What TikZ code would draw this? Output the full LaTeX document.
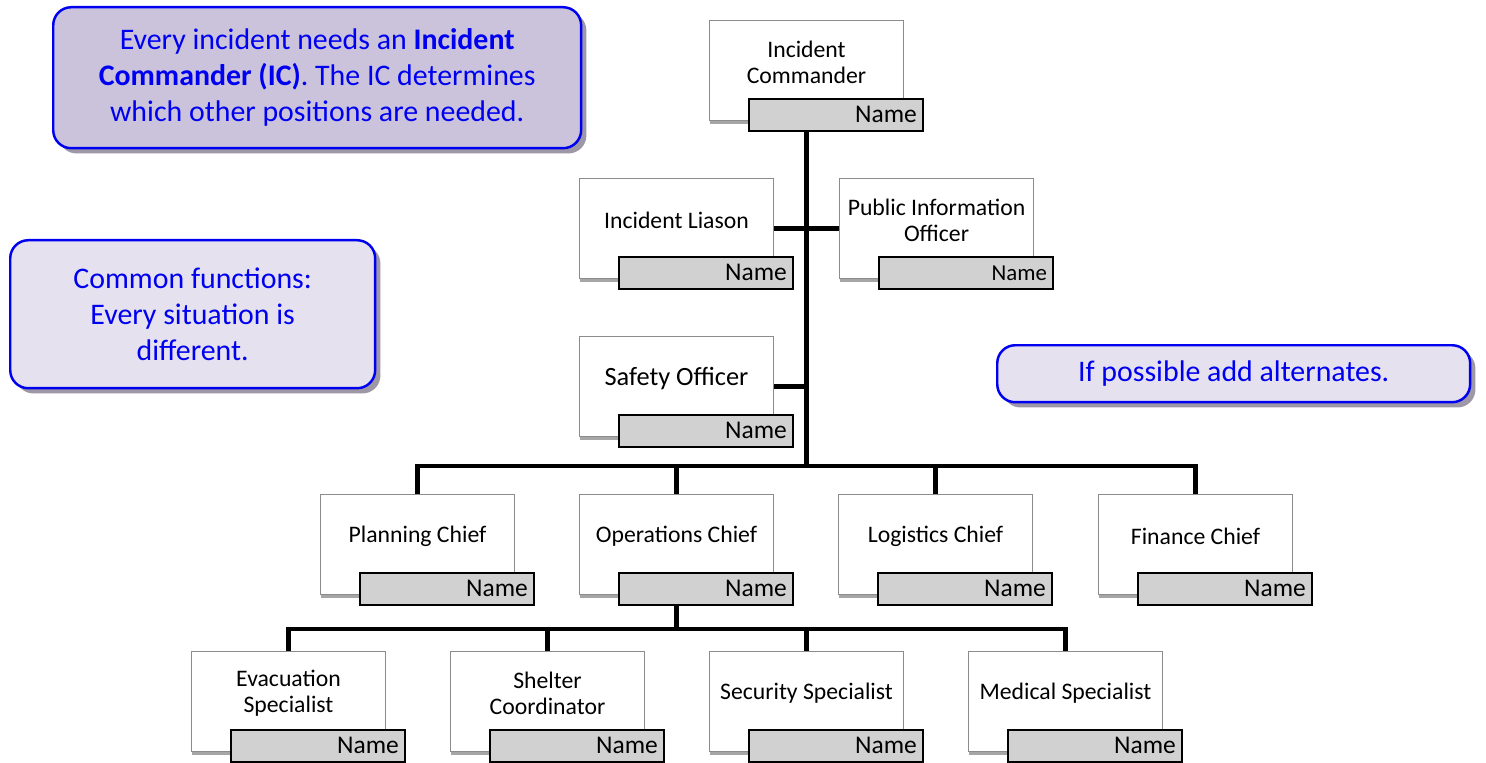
\documentclass[tikz,border=0pt]{standalone}
\usepackage{fontspec}
\setmainfont{Carlito}
\usetikzlibrary{positioning,shadows,backgrounds}

\definecolor{notedark}{HTML}{CBC3DC}
\definecolor{notelight}{HTML}{E6E1EE}
\definecolor{noteshadow}{HTML}{9D97A6}
\definecolor{noteblue}{HTML}{0000F0}

\begin{document}
\begin{tikzpicture}[
		x=0.02cm, y=-0.02cm,
		posbox/.style={
				draw=black!45,
				fill=white,
				line width=0.6pt,
				anchor=north west,
				inner sep=0pt,
				minimum width=3.88cm,
				minimum height=2cm,
				drop shadow={shadow xshift=0.5pt, shadow yshift=-2pt, opacity=0.35, fill=black}
			},
		postext/.style={
				align=center,
				inner sep=0pt
			},
		nametab/.style={
				draw=black,
				line width=1pt,
				fill=black!18,
				anchor=north west,
				inner xsep=0.12cm,
				inner ysep=0pt,
				text width=3.24cm,
				minimum height=0.64cm,
				align=right
			},
		note/.style={
				draw=noteblue,
				line width=1.4pt,
				rounded corners=0.36cm,
				anchor=north west,
				inner sep=0pt,
				align=center,
				text=noteblue,
				font=\fontsize{17}{20.5}\selectfont,
				drop shadow={shadow xshift=3pt, shadow yshift=-3pt, opacity=1, fill=noteshadow}
			},
		link/.style={
				line width=2.8pt,
				black
			}
	]
	\useasboundingbox (0,0) rectangle (1486,763);

	% callouts
	\node[note, fill=notedark, minimum width=10.56cm, minimum height=2.82cm] (icnote) at (52,6)
	{Every incident needs an \textbf{Incident}\\ \textbf{Commander (IC)}. The IC determines\\ which other positions are needed.};
	\node[note, fill=notelight, minimum width=7.3cm, minimum height=2.96cm] (funcnote) at (9,239)
	{Common functions:\\ Every situation is\\ different.};
	\node[note, fill=notelight, minimum width=9.46cm, minimum height=1.14cm] (altnote) at (996,344)
	{If possible add alternates.};

	% positions
	\foreach \nm/\x/\y/\txt/\tfs/\nfs in {
			ic/709/20/{Incident\\Commander}/13.5/14.5,
			liaison/579/178/{Incident Liason}/13.5/14.5,
			pio/839/178/{Public Information\\Officer}/13.5/13,
			safety/579/336/{Safety Officer}/15/14.5,
			plan/320/494/{Planning Chief}/13.5/14.5,
			ops/579/494/{Operations Chief}/13.5/14.5,
			logi/838/494/{Logistics Chief}/13.5/14.5,
			fin/1098/494/{Finance Chief}/13.5/14.5,
			evac/191/651/{Evacuation\\Specialist}/13.5/14.5,
			shel/450/651/{Shelter\\Coordinator}/13.5/14.5,
			secu/709/651/{Security Specialist}/13.5/14.5,
			medi/968/651/{Medical Specialist}/13.5/14.5
		}{
		\node[posbox] (\nm) at (\x,\y) {};
		\node[postext, font=\fontsize{\tfs}{14.8}\selectfont] (\nm-t) at ([shift={(0,-8)}]\nm.center) {\txt};
		\node[nametab, font=\fontsize{\nfs}{16}\selectfont] (\nm-n) at ([shift={(39,78)}]\nm.north west) {Name};
	}

	% connectors
	\begin{scope}[on background layer]
		\coordinate (hub) at (ic.south |- 0,466);
		\coordinate (opsdrop) at (ops.south |- 0,629);
		\draw[link] (ic.south) -- (hub);
		\draw[link] (liaison.east) -- (pio.west);
		\draw[link] (safety.east) -- (safety.east -| hub);
		\draw[link] (plan.north) |- (hub) -| (fin.north);
		\draw[link] (ops.north) -- (ops.north |- hub);
		\draw[link] (logi.north) -- (logi.north |- hub);
		\draw[link] (ops.south) -- (opsdrop);
		\draw[link] (evac.north) |- (opsdrop) -| (medi.north);
		\draw[link] (shel.north) -- (shel.north |- opsdrop);
		\draw[link] (secu.north) -- (secu.north |- opsdrop);
	\end{scope}
\end{tikzpicture}
\end{document}
